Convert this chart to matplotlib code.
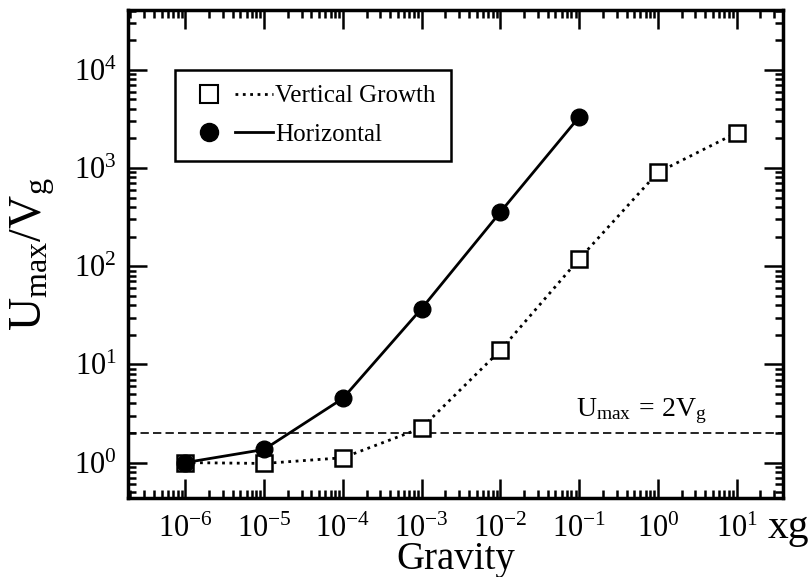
import matplotlib
matplotlib.use('Agg')
import matplotlib.pyplot as plt
from matplotlib.lines import Line2D
from matplotlib.legend_handler import HandlerTuple
from matplotlib.ticker import LogLocator, NullFormatter

plt.rcParams['font.family'] = 'Liberation Serif'
plt.rcParams['mathtext.fontset'] = 'custom'
plt.rcParams['mathtext.rm'] = 'Liberation Serif'
plt.rcParams['mathtext.it'] = 'Liberation Serif'

# data
gravity_vert = [1e-6, 1e-5, 1e-4, 1e-3, 1e-2, 1e-1, 1e0, 1e1]
ratio_vert = [1.0, 0.98, 1.12, 2.25, 13.9, 118, 900, 2280]
gravity_horiz = [1e-6, 1e-5, 1e-4, 1e-3, 1e-2, 1e-1]
ratio_horiz = [1.0, 1.36, 4.5, 37, 355, 3300]
threshold = 2.0
xticks = [1e-6, 1e-5, 1e-4, 1e-3, 1e-2, 1e-1, 1e0, 1e1]
xticklabels = ['$10^{-6}$', '$10^{-5}$', '$10^{-4}$', '$10^{-3}$',
               '$10^{-2}$', '$10^{-1}$', '$10^{0}$', '$10^{1}$']
yticks = [1e0, 1e1, 1e2, 1e3, 1e4]
yticklabels = ['$10^{0}$', '$10^{1}$', '$10^{2}$', '$10^{3}$', '$10^{4}$']

fig = plt.figure(figsize=(8.09, 5.77), dpi=100)
ax = fig.add_axes([0.158, 0.137, 0.81, 0.846])

ax.plot(gravity_vert, ratio_vert, ls=':', color='black', lw=2,
        marker='s', ms=12, mfc='white', mec='black', mew=1.8, zorder=3)
ax.plot(gravity_horiz, ratio_horiz, ls='-', color='black', lw=2,
        marker='o', ms=12, mfc='black', mec='black', zorder=4)
ax.axhline(threshold, ls=(0, (5, 2.5)), color='black', lw=1.2, zorder=2)
ax.text(9e-2, 3.0, r'$\mathrm{U}_{\mathrm{max}}\,=\,2\mathrm{V}_{\mathrm{g}}$', fontsize=20,
        va='baseline')

ax.set_xscale('log')
ax.set_yscale('log')
ax.set_xlim(10**-6.73, 10**1.59)
ax.set_ylim(10**-0.36, 10**4.61)

ax.set_xticks(xticks)
ax.set_xticklabels(xticklabels)
ax.set_yticks(yticks)
ax.set_yticklabels(yticklabels)
ax.xaxis.set_minor_locator(LogLocator(base=10, subs=range(2, 10), numticks=20))
ax.yaxis.set_minor_locator(LogLocator(base=10, subs=range(2, 10), numticks=20))
ax.xaxis.set_minor_formatter(NullFormatter())
ax.yaxis.set_minor_formatter(NullFormatter())
ax.tick_params(which='both', direction='in', top=True, right=True, width=1.8)
ax.tick_params(which='major', length=14, labelsize=22)
ax.tick_params(axis='x', which='major', pad=12)
ax.tick_params(axis='y', which='major', pad=8)
ax.tick_params(which='minor', length=6)
for s in ax.spines.values():
    s.set_linewidth(2.5)

ax.set_xlabel('Gravity', fontsize=28, labelpad=-2)
ax.set_ylabel(r'$\mathrm{U}_{\mathrm{max}}/\mathrm{V}_{\mathrm{g}}$', fontsize=33, labelpad=12)
fig.text(0.975, 0.085, 'xg', fontsize=30, ha='center', va='center')

sq = (Line2D([], [], ls='none', marker='s', ms=13, mfc='white', mec='black', mew=1.5),
      Line2D([], [], ls=':', color='black', lw=2))
ci = (Line2D([], [], ls='none', marker='o', ms=13, mfc='black', mec='black'),
      Line2D([], [], ls='-', color='black', lw=2))
leg = ax.legend([sq, ci], ['Vertical Growth', 'Horizontal'],
                handler_map={tuple: HandlerTuple(ndivide=2, pad=0.3)},
                loc='upper left', bbox_to_anchor=(0.072, 0.877), fontsize=18,
                handlelength=3.3, handletextpad=0.1, fancybox=False,
                framealpha=1, edgecolor='black', borderpad=0.6, labelspacing=0.65,
                borderaxespad=0)
leg.get_frame().set_linewidth(1.8)

fig.savefig('out.png', dpi=100)
